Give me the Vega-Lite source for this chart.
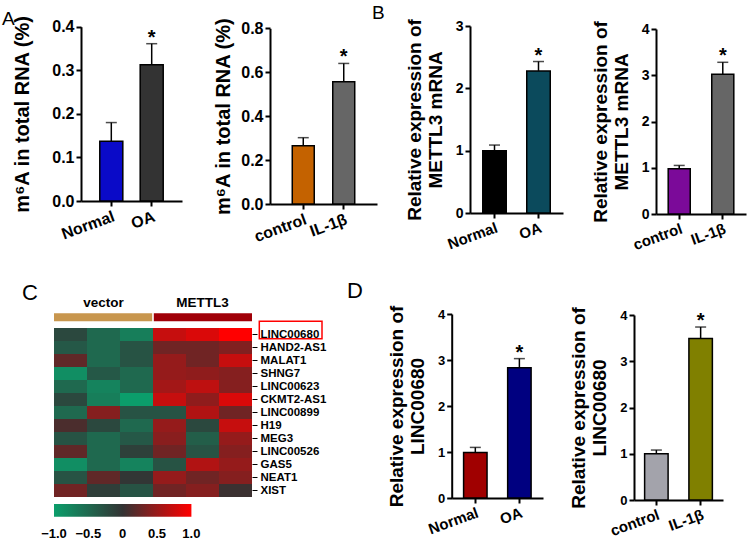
{
  "$schema": "https://vega.github.io/schema/vega-lite/v6.json",
  "autosize": {"type": "none"},
  "padding": {"left": 81, "top": 26, "right": 667, "bottom": 517},
  "background": "white",
  "config": {
    "font": "Liberation Sans",
    "view": {"stroke": null},
    "axis": {"grid": false, "labelFont": "Liberation Sans", "titleFont": "Liberation Sans", "labelFontWeight": "bold", "titleFontWeight": "bold", "labelColor": "#000", "titleColor": "#000", "domainColor": "#000", "tickColor": "#000", "domainWidth": 2, "tickWidth": 2, "tickSize": 5, "labelPadding": 2},
    "title": {"font": "Liberation Sans", "fontWeight": "normal", "color": "#000", "anchor": "start", "frame": "group", "offset": 0}
  },
  "datasets": {
    "heat": [
      {"gene":"LINC00680","s":"v1","v":-0.2},{"gene":"LINC00680","s":"v2","v":-0.5},{"gene":"LINC00680","s":"v3","v":-0.7},{"gene":"LINC00680","s":"m1","v":0.72},{"gene":"LINC00680","s":"m2","v":0.82},{"gene":"LINC00680","s":"m3","v":1.0},
      {"gene":"HAND2-AS1","s":"v1","v":-0.35},{"gene":"HAND2-AS1","s":"v2","v":-0.5},{"gene":"HAND2-AS1","s":"v3","v":-0.3},{"gene":"HAND2-AS1","s":"m1","v":0.3},{"gene":"HAND2-AS1","s":"m2","v":0.3},{"gene":"HAND2-AS1","s":"m3","v":0.38},
      {"gene":"MALAT1","s":"v1","v":0.22},{"gene":"MALAT1","s":"v2","v":-0.5},{"gene":"MALAT1","s":"v3","v":-0.3},{"gene":"MALAT1","s":"m1","v":0.48},{"gene":"MALAT1","s":"m2","v":0.3},{"gene":"MALAT1","s":"m3","v":0.72},
      {"gene":"SHNG7","s":"v1","v":-0.85},{"gene":"SHNG7","s":"v2","v":-0.35},{"gene":"SHNG7","s":"v3","v":-0.5},{"gene":"SHNG7","s":"m1","v":0.48},{"gene":"SHNG7","s":"m2","v":0.45},{"gene":"SHNG7","s":"m3","v":0.4},
      {"gene":"LINC00623","s":"v1","v":-0.5},{"gene":"LINC00623","s":"v2","v":-0.75},{"gene":"LINC00623","s":"v3","v":-0.5},{"gene":"LINC00623","s":"m1","v":0.55},{"gene":"LINC00623","s":"m2","v":0.68},{"gene":"LINC00623","s":"m3","v":0.4},
      {"gene":"CKMT2-AS1","s":"v1","v":-0.2},{"gene":"CKMT2-AS1","s":"v2","v":-0.7},{"gene":"CKMT2-AS1","s":"v3","v":-1.0},{"gene":"CKMT2-AS1","s":"m1","v":0.72},{"gene":"CKMT2-AS1","s":"m2","v":0.45},{"gene":"CKMT2-AS1","s":"m3","v":0.82},
      {"gene":"LINC00899","s":"v1","v":-0.5},{"gene":"LINC00899","s":"v2","v":0.4},{"gene":"LINC00899","s":"v3","v":-0.3},{"gene":"LINC00899","s":"m1","v":-0.3},{"gene":"LINC00899","s":"m2","v":0.62},{"gene":"LINC00899","s":"m3","v":0.3},
      {"gene":"H19","s":"v1","v":0.12},{"gene":"H19","s":"v2","v":-0.2},{"gene":"H19","s":"v3","v":-0.5},{"gene":"H19","s":"m1","v":0.48},{"gene":"H19","s":"m2","v":-0.2},{"gene":"H19","s":"m3","v":0.72},
      {"gene":"MEG3","s":"v1","v":-0.3},{"gene":"MEG3","s":"v2","v":-0.5},{"gene":"MEG3","s":"v3","v":-0.35},{"gene":"MEG3","s":"m1","v":0.42},{"gene":"MEG3","s":"m2","v":-0.4},{"gene":"MEG3","s":"m3","v":0.48},
      {"gene":"LINC00526","s":"v1","v":0.22},{"gene":"LINC00526","s":"v2","v":-0.5},{"gene":"LINC00526","s":"v3","v":-0.12},{"gene":"LINC00526","s":"m1","v":0.3},{"gene":"LINC00526","s":"m2","v":-0.3},{"gene":"LINC00526","s":"m3","v":0.4},
      {"gene":"GAS5","s":"v1","v":-0.85},{"gene":"GAS5","s":"v2","v":-0.5},{"gene":"GAS5","s":"v3","v":-0.75},{"gene":"GAS5","s":"m1","v":-0.3},{"gene":"GAS5","s":"m2","v":0.62},{"gene":"GAS5","s":"m3","v":0.48},
      {"gene":"NEAT1","s":"v1","v":-0.3},{"gene":"NEAT1","s":"v2","v":0.22},{"gene":"NEAT1","s":"v3","v":-0.03},{"gene":"NEAT1","s":"m1","v":0.48},{"gene":"NEAT1","s":"m2","v":0.3},{"gene":"NEAT1","s":"m3","v":0.4},
      {"gene":"XIST","s":"v1","v":0.3},{"gene":"XIST","s":"v2","v":-0.1},{"gene":"XIST","s":"v3","v":-0.3},{"gene":"XIST","s":"m1","v":0.3},{"gene":"XIST","s":"m2","v":0.4},{"gene":"XIST","s":"m3","v":0.04}
    ],
    "groups": [{"grp": "vector"}, {"grp": "METTL3"}],
    "boxed": [{"gene": "LINC00680"}]
  },
  "columns": 4,
  "bounds": "flush",
  "align": "each",
  "spacing": {"row": 99, "column": 0},
  "resolve": {"scale": {"color": "independent", "fill": "independent"}, "legend": {"color": "independent"}},
  "concat": [
    {
      "width": 189, "height": 175,
      "title": {"text": "A", "dx": -79, "dy": 18, "fontSize": 19},
      "data": {"values": [{"grp": "Normal", "mean": 0.137, "upper": 0.18, "sig": ""}, {"grp": "OA", "mean": 0.3125, "upper": 0.361, "sig": "*"}]},
      "encoding": {
        "x": {"field": "grp", "type": "nominal", "sort": null, "scale": {"range": [0, 101], "paddingInner": 0.43, "paddingOuter": 0.465}, "axis": {"title": null, "labelAngle": -20, "labelFontSize": 16}},
        "y": {"field": "mean", "type": "quantitative", "scale": {"domain": [0, 0.4], "range": [175, 0.7], "nice": false}, "axis": {"title": "m⁶A in total RNA (%)", "titleFontSize": 20, "values": [0, 0.1, 0.2, 0.3, 0.4], "format": ".1f", "labelFontSize": 16, "titlePadding": 19}}
      },
      "layer": [
        {"mark": {"type": "bar", "stroke": "#000", "strokeWidth": 1.5}, "encoding": {"color": {"field": "grp", "type": "nominal", "scale": {"domain": ["Normal", "OA"], "range": ["#0a0ac8", "#333333"]}, "legend": null}}},
        {"mark": {"type": "rule", "strokeWidth": 1.5, "color": "#000"}, "encoding": {"y2": {"field": "upper"}}},
        {"mark": {"type": "tick", "size": 11, "thickness": 1.5, "color": "#000"}, "encoding": {"y": {"field": "upper", "type": "quantitative"}}},
        {"transform": [{"filter": "datum.sig != ''"}], "mark": {"type": "text", "fontSize": 20, "fontWeight": "bold", "baseline": "alphabetic", "color": "#000"}, "encoding": {"y": {"field": "upper", "type": "quantitative"}, "text": {"field": "sig"}}}
      ]
    },
    {
      "width": 200, "height": 178,
      "data": {"values": [{"grp": "control", "mean": 0.265, "upper": 0.302, "sig": ""}, {"grp": "IL-1β", "mean": 0.557, "upper": 0.64, "sig": "*"}]},
      "encoding": {
        "x": {"field": "grp", "type": "nominal", "sort": null, "scale": {"range": [0, 107], "paddingInner": 0.457, "paddingOuter": 0.55}, "axis": {"title": null, "labelAngle": -20, "labelFontSize": 16}},
        "y": {"field": "mean", "type": "quantitative", "scale": {"domain": [0, 0.8], "range": [178, 2.3], "nice": false}, "axis": {"title": "m⁶A in total RNA (%)", "titleFontSize": 20, "values": [0, 0.2, 0.4, 0.6, 0.8], "format": ".1f", "labelFontSize": 16, "titlePadding": 7}}
      },
      "layer": [
        {"mark": {"type": "bar", "stroke": "#000", "strokeWidth": 1.5}, "encoding": {"color": {"field": "grp", "type": "nominal", "scale": {"domain": ["control", "IL-1β"], "range": ["#c46200", "#666666"]}, "legend": null}}},
        {"mark": {"type": "rule", "strokeWidth": 1.5, "color": "#000"}, "encoding": {"y2": {"field": "upper"}}},
        {"mark": {"type": "tick", "size": 11, "thickness": 1.5, "color": "#000"}, "encoding": {"y": {"field": "upper", "type": "quantitative"}}},
        {"transform": [{"filter": "datum.sig != ''"}], "mark": {"type": "text", "fontSize": 20, "fontWeight": "bold", "baseline": "alphabetic", "color": "#000"}, "encoding": {"y": {"field": "upper", "type": "quantitative"}, "text": {"field": "sig"}}}
      ]
    },
    {
      "width": 186, "height": 187,
      "title": {"text": "B", "dx": -98, "dy": 8, "fontSize": 19},
      "data": {"values": [{"grp": "Normal", "mean": 1.0, "upper": 1.09, "sig": ""}, {"grp": "OA", "mean": 2.28, "upper": 2.43, "sig": "*"}]},
      "encoding": {
        "x": {"field": "grp", "type": "nominal", "sort": null, "scale": {"range": [0, 93], "paddingInner": 0.466, "paddingOuter": 0.29}, "axis": {"title": null, "labelAngle": -20, "labelFontSize": 15}},
        "y": {"field": "mean", "type": "quantitative", "scale": {"domain": [0, 3], "range": [187, 0], "nice": false}, "axis": {"title": ["Relative expression of", "METTL3 mRNA"], "titleFontSize": 19, "titleLineHeight": 21, "values": [0, 1, 2, 3], "labelFontSize": 14, "titlePadding": 10}}
      },
      "layer": [
        {"mark": {"type": "bar", "stroke": "#000", "strokeWidth": 1.5}, "encoding": {"color": {"field": "grp", "type": "nominal", "scale": {"domain": ["Normal", "OA"], "range": ["#000000", "#0b4a5c"]}, "legend": null}}},
        {"mark": {"type": "rule", "strokeWidth": 1.5, "color": "#000"}, "encoding": {"y2": {"field": "upper"}}},
        {"mark": {"type": "tick", "size": 11, "thickness": 1.5, "color": "#000"}, "encoding": {"y": {"field": "upper", "type": "quantitative"}}},
        {"transform": [{"filter": "datum.sig != ''"}], "mark": {"type": "text", "fontSize": 20, "fontWeight": "bold", "baseline": "alphabetic", "color": "#000"}, "encoding": {"y": {"field": "upper", "type": "quantitative"}, "text": {"field": "sig"}}}
      ]
    },
    {
      "width": 90, "height": 188,
      "data": {"values": [{"grp": "control", "mean": 0.98, "upper": 1.05, "sig": ""}, {"grp": "IL-1β", "mean": 3.02, "upper": 3.28, "sig": "*"}]},
      "encoding": {
        "x": {"field": "grp", "type": "nominal", "sort": null, "scale": {"range": [0, 90], "paddingInner": 0.494, "paddingOuter": 0.28}, "axis": {"title": null, "labelAngle": -20, "labelFontSize": 15}},
        "y": {"field": "mean", "type": "quantitative", "scale": {"domain": [0, 4], "range": [188, 3], "nice": false}, "axis": {"title": ["Relative expression of", "METTL3 mRNA"], "titleFontSize": 19, "titleLineHeight": 21, "values": [0, 1, 2, 3, 4], "labelFontSize": 14, "titlePadding": 10}}
      },
      "layer": [
        {"mark": {"type": "bar", "stroke": "#000", "strokeWidth": 1.5}, "encoding": {"color": {"field": "grp", "type": "nominal", "scale": {"domain": ["control", "IL-1β"], "range": ["#7b0a99", "#666666"]}, "legend": null}}},
        {"mark": {"type": "rule", "strokeWidth": 1.5, "color": "#000"}, "encoding": {"y2": {"field": "upper"}}},
        {"mark": {"type": "tick", "size": 11, "thickness": 1.5, "color": "#000"}, "encoding": {"y": {"field": "upper", "type": "quantitative"}}},
        {"transform": [{"filter": "datum.sig != ''"}], "mark": {"type": "text", "fontSize": 20, "fontWeight": "bold", "baseline": "alphabetic", "color": "#000"}, "encoding": {"y": {"field": "upper", "type": "quantitative"}, "text": {"field": "sig"}}}
      ]
    },
    {
      "width": 171, "height": 185,
      "title": {"text": "C", "dx": -59, "dy": 13, "fontSize": 22},
      "resolve": {"scale": {"x": "independent", "y": "independent"}},
      "layer": [
        {
          "data": {"name": "heat"},
          "mark": {"type": "rect"},
          "encoding": {
            "x": {"field": "s", "type": "nominal", "scale": {"domain": ["v1", "v2", "v3", "m1", "m2", "m3"], "range": [-27, 171], "padding": 0}, "axis": null},
            "y": {"field": "gene", "type": "nominal", "scale": {"domain": ["LINC00680", "HAND2-AS1", "MALAT1", "SHNG7", "LINC00623", "CKMT2-AS1", "LINC00899", "H19", "MEG3", "LINC00526", "GAS5", "NEAT1", "XIST"], "range": [15, 184], "padding": 0}, "axis": {"orient": "right", "title": null, "domain": false, "tickSize": 5, "tickWidth": 1, "labelFontSize": 11.5, "labelPadding": 3}},
            "color": {"field": "v", "type": "quantitative", "scale": {"domain": [-1, 0, 1], "range": ["#0b9e6b", "#333333", "#ff0000"], "interpolate": "rgb"}, "legend": {"type": "gradient", "orient": "none", "legendX": -27, "legendY": 191, "direction": "horizontal", "gradientLength": 137.4, "gradientThickness": 12.7, "title": null, "values": [-1, -0.5, 0, 0.5, 1], "labelExpr": "datum.value == 0 ? '0' : format(datum.value, '.1f')", "labelFontSize": 13, "labelFontWeight": "bold", "labelColor": "#000", "labelOffset": 11, "labelAlign": "center", "labelOverlap": false, "gradientStrokeWidth": 0, "encode": {"labels": {"update": {"align": {"value": "center"}}}}}}
          }
        },
        {
          "data": {"name": "groups"},
          "mark": {"type": "rect"},
          "encoding": {
            "x": {"field": "grp", "type": "nominal", "scale": {"domain": ["vector", "METTL3"], "range": [-27, 171], "paddingInner": 0.016, "paddingOuter": 0}, "axis": null},
            "y": {"datum": "g", "type": "nominal", "scale": {"range": [0.3, 8.3], "padding": 0}, "axis": null},
            "fill": {"field": "grp", "type": "nominal", "scale": {"domain": ["vector", "METTL3"], "range": ["#c8964e", "#a00008"]}, "legend": null}
          }
        },
        {
          "data": {"name": "groups"},
          "mark": {"type": "text", "fontSize": 13.5, "fontWeight": "bold", "baseline": "middle", "dy": -14, "color": "#000"},
          "encoding": {
            "x": {"field": "grp", "type": "nominal", "scale": {"domain": ["vector", "METTL3"], "range": [-27, 171], "paddingInner": 0.016, "paddingOuter": 0}, "axis": null},
            "y": {"datum": "g", "type": "nominal", "scale": {"range": [0.3, 8.3], "padding": 0}, "axis": null},
            "text": {"field": "grp"}
          }
        },
        {
          "data": {"name": "boxed"},
          "mark": {"type": "bar", "fillOpacity": 0, "stroke": "#ff0000", "strokeWidth": 1.5, "height": {"band": 1.33}},
          "encoding": {
            "x": {"datum": 0, "type": "quantitative", "scale": {"domain": [0, 1], "range": [178.3, 241]}, "axis": null},
            "x2": {"datum": 1},
            "y": {"field": "gene", "type": "nominal", "scale": {"domain": ["LINC00680", "HAND2-AS1", "MALAT1", "SHNG7", "LINC00623", "CKMT2-AS1", "LINC00899", "H19", "MEG3", "LINC00526", "GAS5", "NEAT1", "XIST"], "range": [10.5, 179.5], "padding": 0}, "axis": null}
          }
        }
      ]
    },
    {
      "width": 10, "height": 10,
      "data": {"values": []},
      "mark": {"type": "text"},
      "encoding": {}
    },
    {
      "width": 73, "height": 185,
      "title": {"text": "D", "dx": -123, "dy": 2, "fontSize": 22},
      "data": {"values": [{"grp": "Normal", "mean": 0.99, "upper": 1.10, "sig": ""}, {"grp": "OA", "mean": 2.83, "upper": 3.03, "sig": "*"}]},
      "encoding": {
        "x": {"field": "grp", "type": "nominal", "sort": null, "scale": {"range": [-18.3, 73], "paddingInner": 0.468, "paddingOuter": 0.27}, "axis": {"title": null, "labelAngle": -20, "labelFontSize": 15}},
        "y": {"field": "mean", "type": "quantitative", "scale": {"domain": [0, 4], "range": [185, 1], "nice": false}, "axis": {"title": ["Relative expression of", "LINC00680"], "titleFontSize": 19, "titleLineHeight": 21, "values": [0, 1, 2, 3, 4], "labelFontSize": 13, "titlePadding": 10, "offset": 18.3}}
      },
      "layer": [
        {"mark": {"type": "bar", "stroke": "#000", "strokeWidth": 1.5}, "encoding": {"color": {"field": "grp", "type": "nominal", "scale": {"domain": ["Normal", "OA"], "range": ["#a00000", "#000080"]}, "legend": null}}},
        {"mark": {"type": "rule", "strokeWidth": 1.5, "color": "#000"}, "encoding": {"y2": {"field": "upper"}}},
        {"mark": {"type": "tick", "size": 11, "thickness": 1.5, "color": "#000"}, "encoding": {"y": {"field": "upper", "type": "quantitative"}}},
        {"transform": [{"filter": "datum.sig != ''"}], "mark": {"type": "text", "fontSize": 20, "fontWeight": "bold", "baseline": "alphabetic", "color": "#000"}, "encoding": {"y": {"field": "upper", "type": "quantitative"}, "text": {"field": "sig"}}}
      ]
    },
    {
      "width": 67, "height": 187,
      "data": {"values": [{"grp": "control", "mean": 1.0, "upper": 1.08, "sig": ""}, {"grp": "IL-1β", "mean": 3.49, "upper": 3.74, "sig": "*"}]},
      "encoding": {
        "x": {"field": "grp", "type": "nominal", "sort": null, "scale": {"range": [-22, 67], "paddingInner": 0.47, "paddingOuter": 0.24}, "axis": {"title": null, "labelAngle": -20, "labelFontSize": 15}},
        "y": {"field": "mean", "type": "quantitative", "scale": {"domain": [0, 4], "range": [187, 2], "nice": false}, "axis": {"title": ["Relative expression of", "LINC00680"], "titleFontSize": 19, "titleLineHeight": 21, "values": [0, 1, 2, 3, 4], "labelFontSize": 13, "titlePadding": 10, "offset": 22}}
      },
      "layer": [
        {"mark": {"type": "bar", "stroke": "#000", "strokeWidth": 1.5}, "encoding": {"color": {"field": "grp", "type": "nominal", "scale": {"domain": ["control", "IL-1β"], "range": ["#a3a3ab", "#808000"]}, "legend": null}}},
        {"mark": {"type": "rule", "strokeWidth": 1.5, "color": "#000"}, "encoding": {"y2": {"field": "upper"}}},
        {"mark": {"type": "tick", "size": 11, "thickness": 1.5, "color": "#000"}, "encoding": {"y": {"field": "upper", "type": "quantitative"}}},
        {"transform": [{"filter": "datum.sig != ''"}], "mark": {"type": "text", "fontSize": 20, "fontWeight": "bold", "baseline": "alphabetic", "color": "#000"}, "encoding": {"y": {"field": "upper", "type": "quantitative"}, "text": {"field": "sig"}}}
      ]
    }
  ]
}
